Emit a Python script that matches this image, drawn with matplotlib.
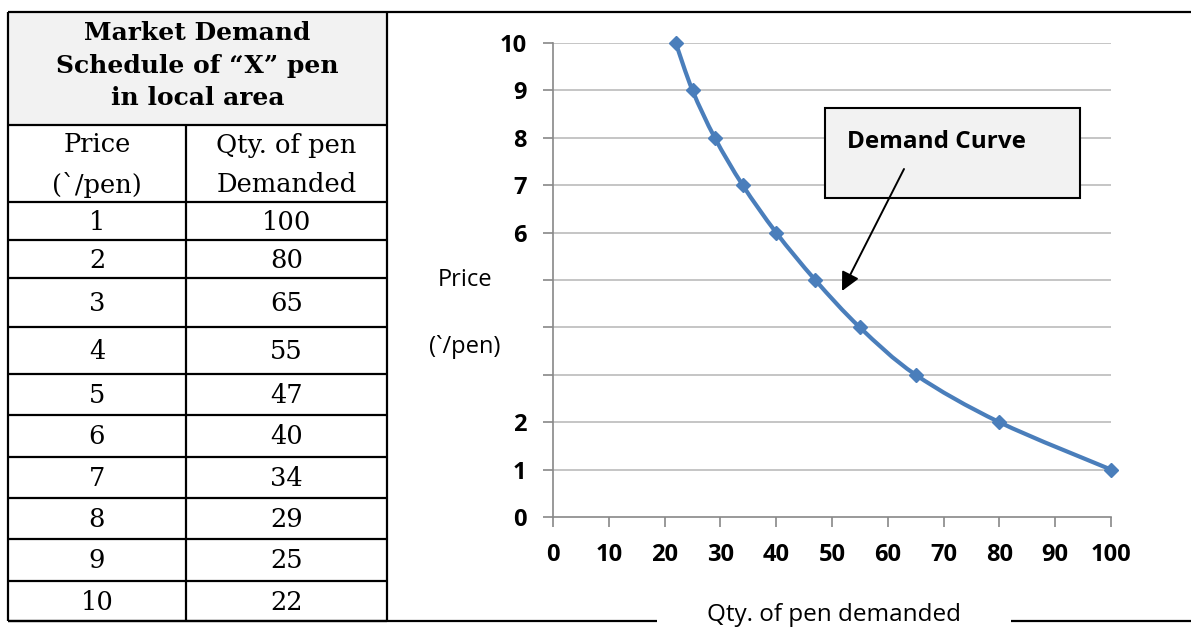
import matplotlib
matplotlib.use("Agg")
import matplotlib.pyplot as plt
from matplotlib.path import Path
from matplotlib.patches import PathPatch, Rectangle
import numpy as np

# ---------------- data ----------------
prices = [1, 2, 3, 4, 5, 6, 7, 8, 9, 10]
qty = [100, 80, 65, 55, 47, 40, 34, 29, 25, 22]
header_lines = ["Market Demand", "Schedule of \u201cX\u201d pen", "in local area"]
col_heads = [["Price", "(`/pen)"], ["Qty. of pen", "Demanded"]]
x_ticks = [0, 10, 20, 30, 40, 50, 60, 70, 80, 90, 100]
y_ticks = [0, 1, 2, 3, 4, 5, 6, 7, 8, 9, 10]
y_tick_labels = ["0", "1", "2", "", "", "", "6", "7", "8", "9", "10"]
y_title = ["Price", "(`/pen)"]
x_title = "Qty. of pen demanded"
annot = "Demand Curve"

W, H = 1191, 630
fig = plt.figure(figsize=(W / 100, H / 100), dpi=100)

serif = "DejaVu Serif"
sans = "Open Sans"
line_kw = dict(color="black", lw=1.6, solid_capstyle="butt")

# ---------------- chart ----------------
ax_l, ax_r, ax_t, ax_b = 553, 1111, 43, 517
ax = fig.add_axes([ax_l / W, 1 - ax_b / H, (ax_r - ax_l) / W, (ax_b - ax_t) / H])
ax.set_zorder(1)
ax.set_xlim(0, 100)
ax.set_ylim(0, 10)
ax.patch.set_alpha(0)
for s in ["top", "right"]:
    ax.spines[s].set_visible(False)
for s in ["left", "bottom"]:
    ax.spines[s].set_color("#888888")
    ax.spines[s].set_linewidth(1.2)
ax.set_xticks(x_ticks)
ax.set_xticklabels([str(v) for v in x_ticks])
ax.set_yticks(y_ticks)
ax.set_yticklabels(y_tick_labels)
ax.tick_params(axis="both", direction="out", length=7, width=1.2, color="#888888",
               labelsize=17)
ax.tick_params(axis="x", pad=12)
ax.tick_params(axis="y", pad=12)
for lab in ax.get_xticklabels() + ax.get_yticklabels():
    lab.set_fontweight("bold")
    lab.set_family(sans)
for yv in y_ticks[1:]:
    ax.axhline(yv, color="#C0C0C0", lw=1.3, zorder=1)

# smoothed line (Catmull-Rom Bezier through the data points, like Excel)
xs = np.array(qty, dtype=float)
ys = np.array(prices, dtype=float)
pts = np.column_stack([xs, ys])
verts = [pts[0]]
codes = [Path.MOVETO]
n = len(pts)
for i in range(n - 1):
    p0 = pts[i - 1] if i > 0 else pts[i]
    p1 = pts[i]
    p2 = pts[i + 1]
    p3 = pts[i + 2] if i + 2 < n else pts[i + 1]
    c1 = p1 + (p2 - p0) / 6.0
    c2 = p2 - (p3 - p1) / 6.0
    verts += [c1, c2, p2]
    codes += [Path.CURVE4] * 3
ax.add_patch(PathPatch(Path(verts, codes), facecolor="none", edgecolor="#4A7EBB",
                       lw=3.0, zorder=3, capstyle="round", joinstyle="round"))
ax.plot(qty, prices, linestyle="none", marker="D", markersize=7.5,
        color="#4A7EBB", zorder=4, clip_on=False)

# overlay in pixel coordinates (on top of the chart)
ov = fig.add_axes([0, 0, 1, 1])
ov.set_zorder(2)
ov.set_xlim(0, W)
ov.set_ylim(H, 0)
ov.axis("off")

# table geometry
tx0, tx1, tx2 = 8, 186, 387
ty_top, ty_head = 12, 125
row_edges = [202, 240, 278, 327, 374, 415, 457, 498, 539, 581, 621]

ov.add_patch(Rectangle((tx0, ty_top), tx2 - tx0, ty_head - ty_top,
                       facecolor="#F2F2F2", edgecolor="none", zorder=0))
ov.plot([tx0, W], [ty_top, ty_top], **line_kw)
ov.plot([tx0, tx0], [ty_top, row_edges[-1]], **line_kw)
ov.plot([tx2, tx2], [ty_top, row_edges[-1]], **line_kw)
ov.plot([tx1, tx1], [ty_head, row_edges[-1]], **line_kw)
ov.plot([tx0, tx2], [ty_head, ty_head], **line_kw)
for ye in row_edges:
    ov.plot([tx0, tx2], [ye, ye], **line_kw)
ov.plot([tx0, 657], [row_edges[-1], row_edges[-1]], **line_kw)
ov.plot([1011, W], [row_edges[-1], row_edges[-1]], **line_kw)

for i, t in enumerate(header_lines):
    ov.text((tx0 + tx2) / 2, 33 + i * 32.5, t, ha="center", va="center",
            family=serif, weight="bold", fontsize=18)
cx = [(tx0 + tx1) / 2, (tx1 + tx2) / 2]
for c in range(2):
    for j, t in enumerate(col_heads[c]):
        ov.text(cx[c], 145 + j * 40, t, ha="center", va="center",
                family=serif, fontsize=18.5)
for i in range(len(prices)):
    yc = (row_edges[i] + row_edges[i + 1]) / 2 + 1
    ov.text(cx[0], yc, str(prices[i]), ha="center", va="center",
            family=serif, fontsize=18.5)
    ov.text(cx[1], yc, str(qty[i]), ha="center", va="center",
            family=serif, fontsize=18.5)

# axis titles (as free text, like the reference)
ov.text(465, 286, y_title[0], ha="center", va="baseline", family=sans, fontsize=17)
ov.text(465, 353, y_title[1], ha="center", va="baseline", family=sans, fontsize=17)
ov.text(834, 621, x_title, ha="center", va="baseline", family=sans, fontsize=17.5)

# annotation box with arrow
ov.add_patch(Rectangle((825, 108), 255, 90, facecolor="#F2F2F2",
                       edgecolor="black", lw=1.5, zorder=5))
ov.text(847, 148, annot, ha="left", va="baseline", family=sans, weight="bold",
        fontsize=17.5, zorder=6)
ov.annotate("", xy=(842, 291), xytext=(904, 169),
            arrowprops=dict(arrowstyle="-|>", color="black", lw=1.4,
                            mutation_scale=28, shrinkA=0, shrinkB=0), zorder=6)

fig.savefig("out.png", dpi=100)
